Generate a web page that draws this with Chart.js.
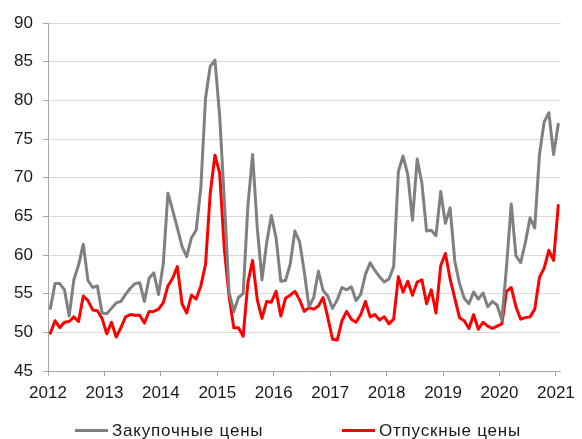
<!DOCTYPE html>
<html>
<head>
<meta charset="utf-8">
<script src="https://cdn.jsdelivr.net/npm/chart.js@4"></script>
<style>
  body { margin: 0; overflow: hidden; background: #fff; }
  #wrap { position: relative; width: 582px; height: 439px; overflow: hidden; }
  #legend { position: absolute; left: 0; top: 420px; width: 582px; height: 22px;
            font-family: "Liberation Sans", Arial, sans-serif; font-size: 17px; letter-spacing: 0.8px; color: #1a1a1a; }
  .item { position: absolute; top: 0; line-height: 22px; white-space: nowrap; }
  .swatch { display: inline-block; width: 33px; height: 3px; vertical-align: middle; margin-right: 4px; position: relative; top: -1px; }
</style>
</head>
<body>
<div id="wrap">
  <canvas id="priceChart" width="582" height="439"></canvas>
  <div id="legend"></div>
</div>
<script>
// monthly, Jan 2012 .. Jan 2021
var years = ['2012', '2013', '2014', '2015', '2016', '2017', '2018', '2019', '2020', '2021'];
var seriesNames = ['Закупочные цены', 'Отпускные цены'];

var purchasePrices = [
  53.1, 56.3, 56.3, 55.5, 52.1, 56.8, 58.7, 61.4, 56.7, 55.8, 56.0, 52.5,
  52.4, 53.1, 53.8, 54.0, 54.9, 55.7, 56.3, 56.4, 54.0, 57.0, 57.7, 54.9,
  58.8, 68.0, 65.8, 63.5, 61.1, 59.8, 62.2, 63.2, 68.7, 80.3, 84.4, 85.2,
  78.0, 67.0, 55.2, 52.7, 54.5, 55.0, 66.3, 73.0, 63.5, 56.8, 61.6, 65.1,
  62.2, 56.6, 56.7, 58.8, 63.1, 61.7, 57.8, 53.3, 54.5, 57.9, 55.4, 54.7,
  53.1, 54.2, 55.8, 55.5, 55.9, 54.1, 54.9, 57.5, 59.0, 58.0, 57.2, 56.5,
  56.9, 58.5, 70.8, 72.8, 70.4, 64.5, 72.4, 69.3, 63.1, 63.2, 62.5, 68.2,
  64.1, 66.1, 59.2, 56.3, 54.4, 53.7, 55.2, 54.3, 55.1, 53.3, 54.0, 53.5,
  51.6, 58.5, 66.6, 59.9, 59.0, 61.6, 64.8, 63.5, 73.0, 77.2, 78.4, 73.0,
  76.9
];

var sellingPrices = [
  49.9, 51.5, 50.6, 51.3, 51.4, 52.0, 51.4, 54.7, 54.1, 52.9, 52.8, 51.8,
  49.8, 51.3, 49.4, 50.6, 52.0, 52.3, 52.2, 52.2, 51.2, 52.7, 52.7, 53.0,
  53.8, 56.0, 57.0, 58.5, 53.7, 52.5, 54.8, 54.3, 56.0, 58.8, 68.0, 72.9,
  70.6, 60.7, 54.7, 50.6, 50.6, 49.5, 56.4, 59.3, 54.2, 51.8, 54.0, 53.9,
  55.3, 52.1, 54.4, 54.8, 55.3, 54.2, 52.7, 53.2, 53.0, 53.4, 54.5, 51.9,
  49.1, 49.0, 51.5, 52.7, 51.7, 51.3, 52.3, 54.0, 52.0, 52.3, 51.6, 52.0,
  51.1, 51.7, 57.2, 55.2, 56.6, 54.8, 56.5, 56.8, 53.7, 55.5, 52.5, 58.6,
  60.2, 56.9, 54.4, 51.9, 51.5, 50.5, 52.3, 50.4, 51.3, 50.8, 50.5, 50.8,
  51.1, 55.3, 55.8, 53.3, 51.7, 51.9, 52.0, 53.0, 57.1, 58.3, 60.6, 59.3,
  66.4
];

var yTicks = [45, 50, 55, 60, 65, 70, 75, 80, 85, 90];

// each month sits in the middle of its slot, years are 12 slots wide
function toPoints(arr) {
  return arr.map(function (v, i) { return { x: i + 0.5, y: v }; });
}

var font = { family: '"Liberation Sans", Arial, sans-serif', size: 17 };

var ctx = document.getElementById('priceChart').getContext('2d');
var myChart = new Chart(ctx, {
  type: 'line',
  data: {
    datasets: [{
      label: seriesNames[0],
      data: toPoints(purchasePrices),
      borderColor: '#808080',
      backgroundColor: '#808080',
      borderWidth: 3,
      pointRadius: 0,
      tension: 0,
      borderJoinStyle: 'round',
      borderCapStyle: 'round'
    }, {
      label: seriesNames[1],
      data: toPoints(sellingPrices),
      borderColor: '#ff0000',
      backgroundColor: '#ff0000',
      borderWidth: 3,
      pointRadius: 0,
      tension: 0,
      borderJoinStyle: 'round',
      borderCapStyle: 'round'
    }]
  },
  options: {
    responsive: false,
    animation: false,
    layout: { padding: { top: 23, right: 19, bottom: 38, left: 0 } },
    plugins: {
      legend: { display: false },
      tooltip: { enabled: false }
    },
    scales: {
      x: {
        type: 'linear',
        min: 0,
        max: purchasePrices.length,
        afterFit: function (scale) { scale.height = 30; },
        grid: { drawOnChartArea: false, color: '#a6a6a6', tickLength: 5 },
        border: { color: '#a6a6a6' },
        ticks: {
          stepSize: 12,
          includeBounds: false,
          autoSkip: false,
          maxRotation: 0,
          padding: 7,
          color: '#1a1a1a',
          font: font,
          callback: function (v) { return years[v / 12]; }
        }
      },
      y: {
        min: yTicks[0],
        max: yTicks[yTicks.length - 1],
        afterFit: function (scale) { scale.width = 48; },
        grid: { color: '#d9d9d9', tickColor: '#a6a6a6', tickLength: 5 },
        border: { color: '#a6a6a6' },
        ticks: { stepSize: 5, padding: 10, color: '#1a1a1a', font: font }
      }
    }
  }
});

// legend under the chart, spaced like the original
var legendX = [75, 342];
var legend = document.getElementById('legend');
myChart.data.datasets.forEach(function (ds, i) {
  var item = document.createElement('div');
  item.className = 'item';
  item.style.left = legendX[i] + 'px';
  var sw = document.createElement('span');
  sw.className = 'swatch';
  sw.style.background = ds.borderColor;
  item.appendChild(sw);
  item.appendChild(document.createTextNode(ds.label));
  legend.appendChild(item);
});
</script>
</body>
</html>
